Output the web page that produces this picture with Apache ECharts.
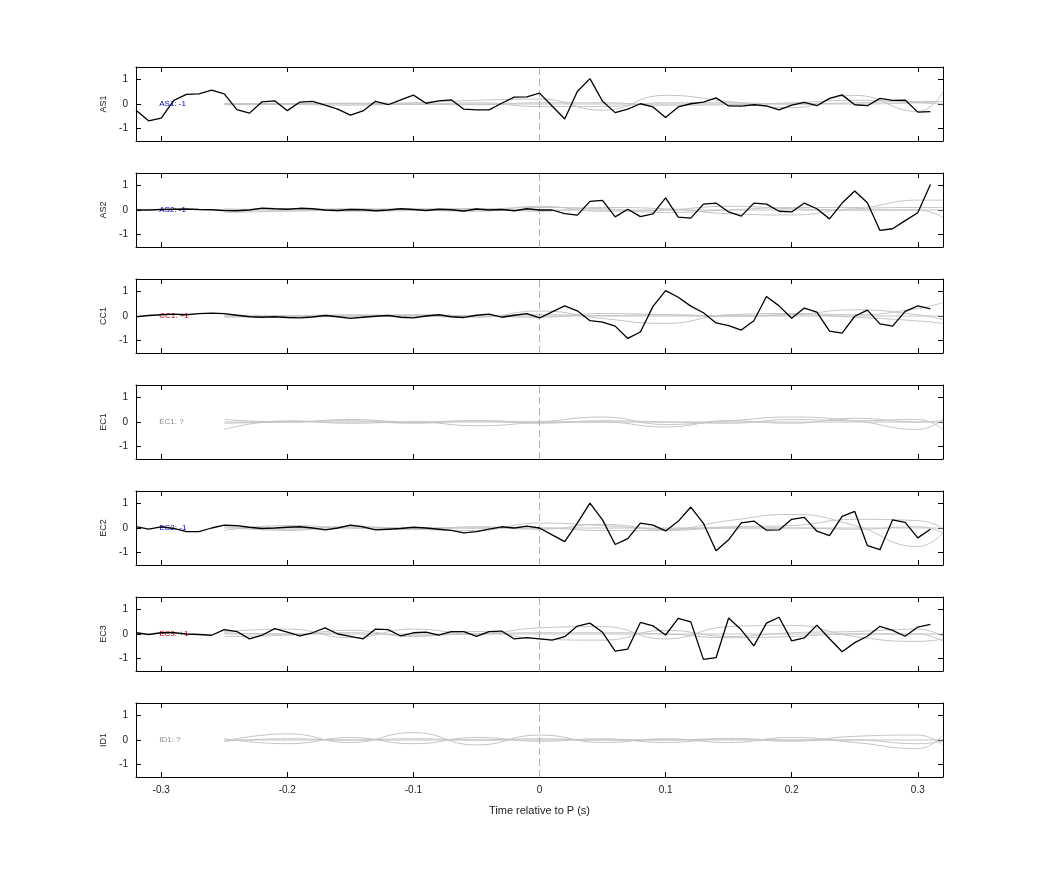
<!DOCTYPE html>
<html>
<head>
<meta charset="utf-8">
<script src="https://cdn.jsdelivr.net/npm/echarts@6/dist/echarts.min.js"></script>
<style>html,body{margin:0;background:#fff}#c{width:1042px;height:875px}</style>
</head>
<body>
<div id="c"></div>
<script>
// stations, in panel order
const stations = ['AS1', 'AS2', 'CC1', 'EC1', 'EC2', 'EC3', 'ID1'];
const labels = ['AS1: -1', 'AS2: -1', 'CC1: +1', 'EC1: ?', 'EC2: -1', 'EC3: +1', 'ID1: ?'];
const labelColors = ['#0000cc', '#0000cc', '#cc0000', '#888888', '#0000cc', '#cc0000', '#888888'];

// black traces: sampled every 0.01 s from -0.32 to 0.31 (null = no trace)
const as1 = [-0.25, -0.68, -0.57, 0.15, 0.39, 0.41, 0.56, 0.41, -0.23, -0.37, 0.09, 0.13, -0.27, 0.08, 0.11, -0.05,
  -0.21, -0.45, -0.28, 0.11, -0.03, 0.17, 0.36, 0.03, 0.13, 0.17, -0.21, -0.24, -0.24, 0.03, 0.28, 0.29,
  0.44, -0.08, -0.61, 0.51, 1.03, 0.11, -0.35, -0.21, 0.01, -0.12, -0.55, -0.12, 0.01, 0.08, 0.25, -0.08,
  -0.09, -0.03, -0.08, -0.24, -0.05, 0.07, -0.07, 0.23, 0.37, -0.03, -0.07, 0.23, 0.15, 0.16, -0.33, -0.31];
const as2 = [0, 0, 0.02, 0.03, 0.04, 0.02, 0.01, -0.02, -0.03, 0, 0.08, 0.05, 0.03, 0.07, 0.05, 0,
  -0.02, 0.02, 0.01, -0.03, 0, 0.05, 0.02, -0.02, 0.03, 0.01, -0.04, 0.04, 0, 0.02, -0.03, 0.05,
  0, 0, -0.15, -0.21, 0.35, 0.39, -0.28, 0.03, -0.27, -0.16, 0.49, -0.29, -0.33, 0.24, 0.28, -0.08,
  -0.25, 0.28, 0.24, -0.05, -0.08, 0.28, 0.05, -0.36, 0.28, 0.77, 0.29, -0.83, -0.76, -0.43, -0.11, 1.03];
const cc1 = [-0.03, 0.02, 0.05, 0.08, 0.05, 0.1, 0.12, 0.1, 0.03, -0.03, -0.05, -0.03, -0.06, -0.08, -0.04, 0.02,
  -0.03, -0.1, -0.05, -0.01, 0.02, -0.05, -0.08, 0, 0.05, -0.03, -0.06, 0.03, 0.08, -0.05, 0.03, 0.1,
  -0.08, 0.17, 0.41, 0.21, -0.19, -0.25, -0.41, -0.91, -0.65, 0.39, 1.03, 0.76, 0.4, 0.13, -0.28, -0.39,
  -0.57, -0.19, 0.79, 0.41, -0.09, 0.32, 0.16, -0.61, -0.69, -0.01, 0.24, -0.32, -0.41, 0.19, 0.41, 0.29];
const ec2 = [0.06, -0.05, 0.05, -0.02, -0.15, -0.15, 0, 0.12, 0.1, 0.03, -0.02, 0, 0.03, 0.05, 0, -0.08,
  0, 0.12, 0.05, -0.08, -0.05, -0.02, 0.03, 0, -0.05, -0.1, -0.2, -0.15, -0.05, 0.05, 0, 0.08,
  0, -0.28, -0.55, 0.2, 1.01, 0.33, -0.67, -0.43, 0.2, 0.12, -0.12, 0.27, 0.85, 0.19, -0.92, -0.48,
  0.21, 0.28, -0.09, -0.08, 0.35, 0.43, -0.13, -0.31, 0.47, 0.67, -0.71, -0.88, 0.33, 0.23, -0.4, -0.05];
const ec3 = [0.05, -0.02, 0.05, 0.05, 0, -0.02, -0.05, 0.18, 0.1, -0.2, -0.05, 0.22, 0.08, -0.08, 0.05, 0.25,
  0, -0.1, -0.2, 0.2, 0.18, -0.08, 0.05, 0.08, -0.05, 0.1, 0.1, -0.1, 0.1, 0.12, -0.2, -0.15,
  -0.2, -0.25, -0.11, 0.32, 0.44, 0.07, -0.69, -0.61, 0.47, 0.33, -0.04, 0.63, 0.49, -1.03, -0.96, 0.65,
  0.17, -0.48, 0.44, 0.68, -0.28, -0.16, 0.36, -0.19, -0.72, -0.35, -0.09, 0.31, 0.15, -0.09, 0.28, 0.39];
const blackTraces = [as1, as2, cc1, null, ec2, ec3, null];

// grey traces: smooth curves, sampled at these times
const greyT = [-0.25, -0.2, -0.15, -0.1, -0.05, 0, 0.05, 0.1, 0.15, 0.2, 0.25, 0.3, 0.32];
const greyTraces = [
  [[0, 0, 0.02, 0.05, 0.15, 0.2, -0.25, 0.35, 0.1, -0.15, 0.35, -0.3, 0.5],
   [0, 0.02, 0, -0.02, 0.05, -0.1, -0.1, 0.05, 0.05, 0, 0.05, 0.1, 0.1],
   [0.02, 0, 0.03, 0, -0.03, 0.05, 0.05, -0.05, -0.03, 0.05, 0.15, 0.05, 0],
   [-0.03, -0.02, -0.05, 0, 0, 0, 0, 0, 0, 0, 0, 0.05, 0.1]],
  [[-0.1, -0.05, 0, 0.05, 0.05, 0.1, 0.05, -0.1, 0, 0.1, 0.1, 0.4, 0.4],
   [0, 0.05, -0.05, -0.02, 0.05, -0.05, 0.1, 0.05, -0.15, -0.2, 0.05, 0.1, 0.1],
   [0.05, 0, 0.05, 0, -0.05, 0.15, -0.05, 0, 0.15, 0.05, 0, 0, -0.3],
   [0, 0, 0, 0, 0, 0, 0, 0, 0, 0, 0, 0, 0]],
  [[-0.05, 0, 0.05, 0, -0.05, 0.2, -0.1, -0.3, 0.05, 0.1, 0.05, 0.3, 0.55],
   [0.05, 0, -0.03, 0.05, 0, -0.05, 0.1, 0.05, 0, 0.05, 0.25, 0.05, -0.15],
   [0, -0.02, 0, 0.03, 0, 0.05, 0.02, 0.05, 0, 0.05, -0.05, -0.2, -0.3],
   [0, 0, 0, 0, 0, 0, 0, 0, 0, 0, 0, 0, 0]],
  [[-0.3, 0.05, -0.05, 0, -0.15, 0, 0.2, -0.1, 0.05, 0.2, 0.05, -0.3, 0.1],
   [0.1, 0, 0.1, 0, 0.05, 0, 0, -0.2, 0.05, -0.05, 0.15, 0, 0.05],
   [-0.05, 0, 0.05, -0.05, 0.05, -0.05, 0.05, 0, -0.05, 0.1, 0.05, 0.1, -0.3],
   [0, 0, 0, 0, 0, 0, 0, 0, 0, 0, 0, 0, 0]],
  [[0.1, -0.05, 0.05, -0.05, -0.1, 0.2, 0.1, -0.05, 0.3, 0.55, 0.1, -0.75, -0.2],
   [-0.1, 0.1, 0, -0.05, 0.05, -0.05, 0.15, -0.05, 0.05, 0.1, 0.35, 0.3, 0],
   [0.05, -0.1, 0.05, 0, 0, 0, -0.1, -0.1, 0, 0, -0.05, 0.05, -0.2],
   [0, 0, 0, 0, 0, 0, 0, 0, 0, 0, 0, 0, 0]],
  [[0.1, 0.2, -0.15, 0.2, 0, 0.25, 0.3, -0.2, 0.3, 0.35, -0.1, -0.3, -0.2],
   [-0.1, -0.05, 0.15, -0.1, 0.1, -0.2, -0.25, 0.15, -0.1, 0.05, 0.1, 0.2, -0.1],
   [0.05, 0, 0.05, -0.05, 0, 0.05, 0.05, 0, -0.15, -0.1, 0, 0, -0.3],
   [0, 0, 0, 0, 0, 0, 0, 0, 0, 0, 0, 0, 0]],
  [[-0.05, 0.25, -0.1, 0.3, -0.2, 0.2, -0.1, 0.05, -0.1, 0.1, -0.1, -0.35, 0.2],
   [0.05, -0.15, 0.1, -0.15, 0.1, -0.05, 0.05, -0.1, 0.05, -0.05, 0.15, 0.2, -0.2],
   [-0.05, 0.05, 0, 0.05, 0, 0.05, 0, 0, 0.05, 0, 0, -0.15, -0.05],
   [0, 0, 0, 0, 0, 0, 0, 0, 0, 0, 0, 0, 0]]
];
const xTicks = [-0.3, -0.2, -0.1, 0, 0.1, 0.2, 0.3];

const chart = echarts.init(document.getElementById('c'));
const grids = [], xAxes = [], yAxes = [], series = [];
const axisLine = { show: true, onZero: false, lineStyle: { color: '#000', width: 1 } };
const tick = { show: true, inside: true, length: 5, lineStyle: { color: '#000' } };
const fmt = v => (v === 0 ? '0' : String(Math.round(v * 10) / 10));

stations.forEach((st, i) => {
  grids.push({ left: 136, right: 99, top: 67 + 106 * i, height: 74 });
  const last = i === stations.length - 1;
  xAxes.push({ gridIndex: i, type: 'value', min: -0.32, max: 0.32, position: 'bottom',
    axisLine, axisTick: { ...tick, customValues: xTicks }, splitLine: { show: false },
    axisLabel: { show: last, fontSize: 10, color: '#222', formatter: fmt, customValues: xTicks },
    name: last ? 'Time relative to P (s)' : '', nameLocation: 'middle', nameGap: 28,
    nameTextStyle: { fontSize: 11, color: '#222' } });
  xAxes.push({ gridIndex: i, type: 'value', min: -0.32, max: 0.32, position: 'top',
    axisLine, axisTick: { ...tick, customValues: xTicks }, axisLabel: { show: false }, splitLine: { show: false } });
  yAxes.push({ gridIndex: i, type: 'value', min: -1.5, max: 1.5, position: 'left',
    axisLine, axisTick: { ...tick, customValues: [-1, 0, 1] }, splitLine: { show: false },
    axisLabel: { fontSize: 10, color: '#222', customValues: [-1, 0, 1] },
    name: st, nameLocation: 'middle', nameGap: 28, nameRotate: 90,
    nameTextStyle: { fontSize: 9, color: '#222' } });
  yAxes.push({ gridIndex: i, type: 'value', min: -1.5, max: 1.5, position: 'right',
    axisLine, axisTick: { ...tick, customValues: [-1, 0, 1] }, axisLabel: { show: false }, splitLine: { show: false } });

  greyTraces[i].forEach(g => {
    series.push({ type: 'line', xAxisIndex: 2 * i, yAxisIndex: 2 * i, smooth: 0.5, symbol: 'none',
      lineStyle: { color: '#c4c4c4', width: 1 }, silent: true,
      data: greyT.map((t, k) => [t, g[k]]) });
  });
  // station label + zero marker line
  series.push({ type: 'line', xAxisIndex: 2 * i, yAxisIndex: 2 * i, data: [], silent: true,
    markLine: { symbol: 'none', silent: true, label: { show: false },
      lineStyle: { color: '#e69a9a', type: [7, 4], width: 1 }, data: [{ xAxis: 0 }] },
    markPoint: { symbol: 'rect', symbolSize: 0, data: [{ coord: [-0.3, 0],
      label: { show: true, position: 'right', distance: -2, formatter: labels[i], fontSize: 8, color: labelColors[i] } }] } });
  const b = blackTraces[i];
  if (b) {
    series.push({ type: 'line', xAxisIndex: 2 * i, yAxisIndex: 2 * i, symbol: 'none', z: 5,
      lineStyle: { color: '#000', width: 1.3 }, silent: true,
      data: b.map((v, k) => [Math.round((-0.32 + 0.01 * k) * 100) / 100, v]) });
  }
});

chart.setOption({
  animation: false,
  textStyle: { fontFamily: 'Liberation Sans, Arial, sans-serif' },
  grid: grids, xAxis: xAxes, yAxis: yAxes, series
});
</script>
</body>
</html>
